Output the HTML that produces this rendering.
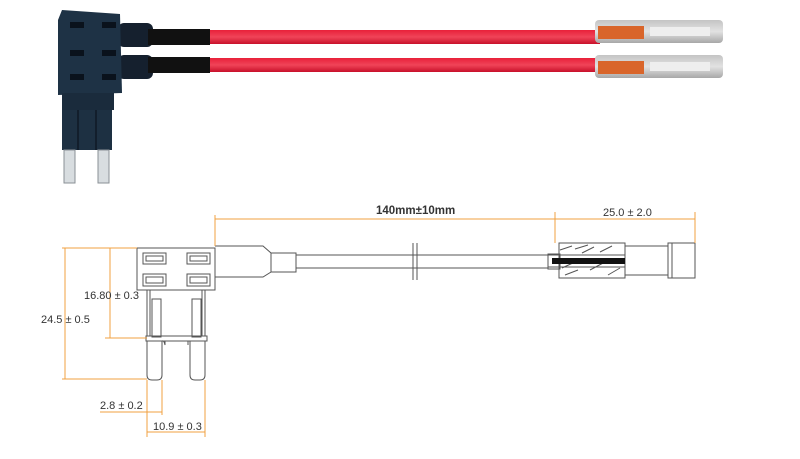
<!DOCTYPE html>
<html><head><meta charset="utf-8"><style>
html,body{margin:0;padding:0;background:#fff;}
svg{display:block;}
text{font-family:"Liberation Sans",sans-serif;}
</style></head><body>
<svg width="800" height="459" viewBox="0 0 800 459" xmlns="http://www.w3.org/2000/svg">
<defs>
<linearGradient id="red" x1="0" y1="0" x2="0" y2="1">
<stop offset="0" stop-color="#e8203a"/><stop offset="0.5" stop-color="#f04458"/><stop offset="1" stop-color="#c8102a"/></linearGradient>
<linearGradient id="term" x1="0" y1="0" x2="0" y2="1">
<stop offset="0" stop-color="#c4c4c4"/><stop offset="0.5" stop-color="#e2e2e2"/><stop offset="1" stop-color="#a8a8a8"/></linearGradient>
</defs>
<!-- PHOTO -->
<!-- wires -->
<rect x="205" y="30" width="395" height="14" fill="url(#red)"/>
<rect x="205" y="58" width="395" height="14" fill="url(#red)"/>
<!-- boots -->
<rect x="118" y="23" width="35" height="24" rx="6" fill="#15202e"/>
<rect x="118" y="55" width="35" height="24" rx="6" fill="#15202e"/>
<rect x="148" y="29" width="62" height="16" fill="#111"/>
<rect x="148" y="57" width="62" height="16" fill="#111"/>
<!-- fuse body -->
<polygon points="62,10 120,14 122,93 58,95 58,20" fill="#1e3245"/>
<rect x="62" y="93" width="52" height="17" fill="#1a2b3c"/>
<rect x="62" y="110" width="50" height="40" fill="#1d3042"/>
<line x1="78" y1="110" x2="78" y2="150" stroke="#0e1824" stroke-width="1.5"/>
<line x1="96" y1="110" x2="96" y2="150" stroke="#0e1824" stroke-width="1.5"/>
<rect x="64" y="150" width="11" height="33" fill="#d8dde0" stroke="#8a9096" stroke-width="1"/>
<rect x="98" y="150" width="11" height="33" fill="#d8dde0" stroke="#8a9096" stroke-width="1"/>
<g fill="#0a121c"><rect x="70" y="22" width="14" height="6"/><rect x="102" y="22" width="14" height="6"/>
<rect x="70" y="50" width="14" height="6"/><rect x="102" y="50" width="14" height="6"/>
<rect x="70" y="74" width="14" height="6"/><rect x="102" y="74" width="14" height="6"/></g>
<!-- terminals -->
<g>
<rect x="595" y="20" width="128" height="23" rx="4" fill="url(#term)"/>
<rect x="598" y="26" width="46" height="13" fill="#d9652a"/>
<rect x="650" y="27" width="60" height="9" fill="#eee"/>
<rect x="595" y="55" width="128" height="23" rx="4" fill="url(#term)"/>
<rect x="598" y="61" width="46" height="13" fill="#d9652a"/>
<rect x="650" y="62" width="60" height="9" fill="#eee"/>
</g>
<!-- DRAWING -->
<g fill="none" stroke="#555" stroke-width="1">
<rect x="137" y="248" width="78" height="42" fill="#fff"/>
<rect x="143" y="253" width="23" height="11"/><rect x="187" y="253" width="23" height="11"/>
<rect x="143" y="274" width="23" height="12"/><rect x="187" y="274" width="23" height="12"/>
<rect x="146" y="256" width="17" height="5"/><rect x="190" y="256" width="17" height="5"/>
<rect x="146" y="277" width="17" height="6"/><rect x="190" y="277" width="17" height="6"/>
<line x1="147" y1="290" x2="147" y2="336"/><line x1="150" y1="290" x2="150" y2="336"/>
<line x1="205" y1="290" x2="205" y2="336"/><line x1="202" y1="290" x2="202" y2="336"/>
<rect x="152" y="299" width="9" height="38"/><rect x="192" y="299" width="9" height="38"/>
<rect x="146" y="336" width="61" height="5"/>
<path d="M147,341 V375 Q147,380 152,380 H157 Q162,380 162,375 V341"/>
<path d="M190,341 V375 Q190,380 195,380 H200 Q205,380 205,375 V341"/>
<path d="M162,341 Q164,340 165,345 V341 M188,341 V345"/>
<!-- boot -->
<path d="M215,246 H263 L271,253 V272 L263,277 H215"/>
<rect x="271" y="253" width="25" height="19"/>
<line x1="296" y1="255" x2="548" y2="255"/><line x1="296" y1="268" x2="548" y2="268"/>
<line x1="413" y1="243" x2="413" y2="280"/><line x1="417" y1="243" x2="417" y2="280"/>
<!-- connector -->
<rect x="548" y="254" width="12" height="15"/>
<rect x="559" y="243" width="66" height="35"/>
<path d="M560,250 L572,246 M562,268 L575,262 M575,249 L588,245 M590,270 L605,262 M600,252 L612,246 M608,275 L620,268 M565,275 L578,270 M582,253 L594,247"/>
<rect x="625" y="246" width="43" height="29"/>
<rect x="668" y="243" width="27" height="35"/>
<line x1="672" y1="243" x2="672" y2="278"/>
</g>
<rect x="552" y="258" width="73" height="6" fill="#111"/>
<line x1="548" y1="255" x2="625" y2="255" stroke="#555"/>
<line x1="548" y1="267" x2="625" y2="267" stroke="#555"/>
<!-- dimensions -->
<g stroke="#f0a040" stroke-width="1" fill="none">
<line x1="215" y1="215" x2="215" y2="246"/>
<line x1="215" y1="219" x2="555" y2="219"/>
<line x1="555" y1="212" x2="555" y2="243"/>
<line x1="555" y1="219" x2="695" y2="219"/>
<line x1="695" y1="212" x2="695" y2="243"/>
<line x1="62" y1="248" x2="137" y2="248"/>
<line x1="65" y1="248" x2="65" y2="379"/>
<line x1="62" y1="379" x2="147" y2="379"/>
<line x1="110" y1="248" x2="110" y2="338"/>
<line x1="105" y1="338" x2="147" y2="338"/>
<line x1="147" y1="380" x2="147" y2="437"/>
<line x1="162" y1="380" x2="162" y2="415"/>
<line x1="100" y1="412" x2="162" y2="412"/>
<line x1="205" y1="380" x2="205" y2="437"/>
<line x1="147" y1="432" x2="205" y2="432"/>
</g>
<g fill="#333" font-size="11">
<text x="376" y="214" font-weight="bold" font-size="11.5">140mm±10mm</text>
<text x="603" y="216">25.0 ± 2.0</text>
<text x="41" y="323">24.5 ± 0.5</text>
<text x="84" y="299">16.80 ± 0.3</text>
<text x="100" y="409">2.8 ± 0.2</text>
<text x="153" y="430">10.9 ± 0.3</text>
</g>
</svg>
</body></html>
